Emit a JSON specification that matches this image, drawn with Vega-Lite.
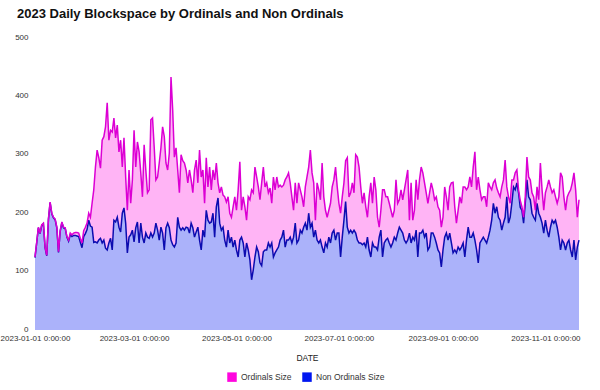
{
"$schema": "https://vega.github.io/schema/vega-lite/v6.json",
"width": 544, "height": 292,
"autosize": "none",
"padding": {"left": 35, "top": 38, "right": 21, "bottom": 60},
"background": "white",
"config": {"font": "Liberation Sans", "view": {"stroke": null}},
"title": {"text": "2023 Daily Blockspace by Ordinals and Non Ordinals", "anchor": "start", "frame": "group", "dx": -18, "offset": 12, "fontSize": 13, "fontWeight": "bold", "color": "#111111"},
"data": {"values": [
{"d":"2023-01-01","t":125,"n":124},{"d":"2023-01-02","t":150,"n":149},{"d":"2023-01-03","t":176,"n":175},{"d":"2023-01-04","t":166,"n":165},{"d":"2023-01-05","t":180,"n":179},{"d":"2023-01-06","t":183,"n":182},{"d":"2023-01-07","t":142,"n":141},{"d":"2023-01-08","t":128,"n":127},{"d":"2023-01-09","t":190,"n":189},{"d":"2023-01-10","t":219,"n":218},{"d":"2023-01-11","t":200,"n":199},{"d":"2023-01-12","t":193,"n":192},{"d":"2023-01-13","t":190,"n":189},{"d":"2023-01-14","t":176,"n":175},{"d":"2023-01-15","t":134,"n":133},{"d":"2023-01-16","t":170,"n":169},{"d":"2023-01-17","t":185,"n":184},{"d":"2023-01-18","t":176,"n":175},{"d":"2023-01-19","t":175,"n":174},{"d":"2023-01-20","t":160,"n":159},{"d":"2023-01-21","t":154,"n":152},{"d":"2023-01-22","t":166,"n":163},{"d":"2023-01-23","t":163,"n":160},{"d":"2023-01-24","t":166,"n":162},{"d":"2023-01-25","t":167,"n":162},{"d":"2023-01-26","t":167,"n":161},{"d":"2023-01-27","t":166,"n":160},{"d":"2023-01-28","t":157,"n":150},{"d":"2023-01-29","t":149,"n":141},{"d":"2023-01-30","t":170,"n":160},{"d":"2023-01-31","t":176,"n":165},
{"d":"2023-02-01","t":183,"n":172},{"d":"2023-02-02","t":200,"n":188},{"d":"2023-02-03","t":193,"n":178},{"d":"2023-02-04","t":217,"n":176},{"d":"2023-02-05","t":240,"n":150},{"d":"2023-02-06","t":279,"n":151},{"d":"2023-02-07","t":308,"n":149},{"d":"2023-02-08","t":295,"n":154},{"d":"2023-02-09","t":277,"n":157},{"d":"2023-02-10","t":325,"n":149},{"d":"2023-02-11","t":331,"n":154},{"d":"2023-02-12","t":348,"n":140},{"d":"2023-02-13","t":389,"n":137},{"d":"2023-02-14","t":325,"n":149},{"d":"2023-02-15","t":342,"n":157},{"d":"2023-02-16","t":339,"n":137},{"d":"2023-02-17","t":363,"n":188},{"d":"2023-02-18","t":329,"n":185},{"d":"2023-02-19","t":351,"n":193},{"d":"2023-02-20","t":305,"n":176},{"d":"2023-02-21","t":325,"n":168},{"d":"2023-02-22","t":279,"n":200},{"d":"2023-02-23","t":329,"n":209},{"d":"2023-02-24","t":262,"n":183},{"d":"2023-02-25","t":205,"n":132},{"d":"2023-02-26","t":274,"n":159},{"d":"2023-02-27","t":217,"n":163},{"d":"2023-02-28","t":257,"n":171},
{"d":"2023-03-01","t":342,"n":151},{"d":"2023-03-02","t":279,"n":175},{"d":"2023-03-03","t":322,"n":185},{"d":"2023-03-04","t":305,"n":149},{"d":"2023-03-05","t":269,"n":183},{"d":"2023-03-06","t":228,"n":159},{"d":"2023-03-07","t":317,"n":149},{"d":"2023-03-08","t":274,"n":166},{"d":"2023-03-09","t":235,"n":159},{"d":"2023-03-10","t":240,"n":157},{"d":"2023-03-11","t":360,"n":166},{"d":"2023-03-12","t":363,"n":159},{"d":"2023-03-13","t":313,"n":166},{"d":"2023-03-14","t":257,"n":183},{"d":"2023-03-15","t":262,"n":171},{"d":"2023-03-16","t":286,"n":154},{"d":"2023-03-17","t":312,"n":176},{"d":"2023-03-18","t":348,"n":166},{"d":"2023-03-19","t":331,"n":137},{"d":"2023-03-20","t":286,"n":175},{"d":"2023-03-21","t":274,"n":183},{"d":"2023-03-22","t":303,"n":175},{"d":"2023-03-23","t":433,"n":154},{"d":"2023-03-24","t":377,"n":146},{"d":"2023-03-25","t":296,"n":142},{"d":"2023-03-26","t":312,"n":149},{"d":"2023-03-27","t":274,"n":193},{"d":"2023-03-28","t":235,"n":176},{"d":"2023-03-29","t":300,"n":171},{"d":"2023-03-30","t":290,"n":175},{"d":"2023-03-31","t":286,"n":171},
{"d":"2023-04-01","t":274,"n":176},{"d":"2023-04-02","t":252,"n":175},{"d":"2023-04-03","t":274,"n":166},{"d":"2023-04-04","t":257,"n":183},{"d":"2023-04-05","t":235,"n":175},{"d":"2023-04-06","t":274,"n":159},{"d":"2023-04-07","t":291,"n":168},{"d":"2023-04-08","t":252,"n":176},{"d":"2023-04-09","t":308,"n":154},{"d":"2023-04-10","t":262,"n":137},{"d":"2023-04-11","t":274,"n":171},{"d":"2023-04-12","t":217,"n":159},{"d":"2023-04-13","t":295,"n":205},{"d":"2023-04-14","t":245,"n":188},{"d":"2023-04-15","t":279,"n":183},{"d":"2023-04-16","t":240,"n":185},{"d":"2023-04-17","t":274,"n":200},{"d":"2023-04-18","t":257,"n":159},{"d":"2023-04-19","t":286,"n":211},{"d":"2023-04-20","t":252,"n":226},{"d":"2023-04-21","t":235,"n":183},{"d":"2023-04-22","t":245,"n":171},{"d":"2023-04-23","t":231,"n":176},{"d":"2023-04-24","t":228,"n":154},{"d":"2023-04-25","t":219,"n":142},{"d":"2023-04-26","t":228,"n":171},{"d":"2023-04-27","t":200,"n":149},{"d":"2023-04-28","t":193,"n":159},{"d":"2023-04-29","t":211,"n":142},{"d":"2023-04-30","t":228,"n":154},
{"d":"2023-05-01","t":205,"n":137},{"d":"2023-05-02","t":240,"n":125},{"d":"2023-05-03","t":288,"n":154},{"d":"2023-05-04","t":205,"n":159},{"d":"2023-05-05","t":228,"n":149},{"d":"2023-05-06","t":211,"n":125},{"d":"2023-05-07","t":188,"n":149},{"d":"2023-05-08","t":228,"n":137},{"d":"2023-05-09","t":223,"n":120},{"d":"2023-05-10","t":240,"n":86},{"d":"2023-05-11","t":235,"n":103},{"d":"2023-05-12","t":279,"n":125},{"d":"2023-05-13","t":262,"n":142},{"d":"2023-05-14","t":245,"n":134},{"d":"2023-05-15","t":223,"n":115},{"d":"2023-05-16","t":252,"n":110},{"d":"2023-05-17","t":279,"n":134},{"d":"2023-05-18","t":245,"n":137},{"d":"2023-05-19","t":252,"n":137},{"d":"2023-05-20","t":235,"n":149},{"d":"2023-05-21","t":243,"n":142},{"d":"2023-05-22","t":217,"n":149},{"d":"2023-05-23","t":262,"n":125},{"d":"2023-05-24","t":240,"n":132},{"d":"2023-05-25","t":262,"n":137},{"d":"2023-05-26","t":245,"n":142},{"d":"2023-05-27","t":248,"n":154},{"d":"2023-05-28","t":245,"n":159},{"d":"2023-05-29","t":248,"n":171},{"d":"2023-05-30","t":257,"n":142},{"d":"2023-05-31","t":262,"n":154},
{"d":"2023-06-01","t":269,"n":154},{"d":"2023-06-02","t":252,"n":159},{"d":"2023-06-03","t":228,"n":149},{"d":"2023-06-04","t":205,"n":159},{"d":"2023-06-05","t":252,"n":183},{"d":"2023-06-06","t":217,"n":149},{"d":"2023-06-07","t":252,"n":154},{"d":"2023-06-08","t":240,"n":171},{"d":"2023-06-09","t":228,"n":166},{"d":"2023-06-10","t":211,"n":176},{"d":"2023-06-11","t":245,"n":183},{"d":"2023-06-12","t":262,"n":171},{"d":"2023-06-13","t":279,"n":200},{"d":"2023-06-14","t":308,"n":176},{"d":"2023-06-15","t":269,"n":183},{"d":"2023-06-16","t":252,"n":159},{"d":"2023-06-17","t":188,"n":171},{"d":"2023-06-18","t":252,"n":154},{"d":"2023-06-19","t":240,"n":149},{"d":"2023-06-20","t":223,"n":154},{"d":"2023-06-21","t":286,"n":142},{"d":"2023-06-22","t":228,"n":132},{"d":"2023-06-23","t":205,"n":149},{"d":"2023-06-24","t":193,"n":142},{"d":"2023-06-25","t":205,"n":159},{"d":"2023-06-26","t":217,"n":149},{"d":"2023-06-27","t":245,"n":166},{"d":"2023-06-28","t":257,"n":171},{"d":"2023-06-29","t":279,"n":154},{"d":"2023-06-30","t":245,"n":166},
{"d":"2023-07-01","t":217,"n":166},{"d":"2023-07-02","t":200,"n":125},{"d":"2023-07-03","t":228,"n":159},{"d":"2023-07-04","t":252,"n":188},{"d":"2023-07-05","t":290,"n":220},{"d":"2023-07-06","t":295,"n":176},{"d":"2023-07-07","t":228,"n":166},{"d":"2023-07-08","t":235,"n":171},{"d":"2023-07-09","t":252,"n":166},{"d":"2023-07-10","t":235,"n":171},{"d":"2023-07-11","t":300,"n":166},{"d":"2023-07-12","t":296,"n":154},{"d":"2023-07-13","t":279,"n":149},{"d":"2023-07-14","t":245,"n":149},{"d":"2023-07-15","t":217,"n":146},{"d":"2023-07-16","t":235,"n":149},{"d":"2023-07-17","t":211,"n":142},{"d":"2023-07-18","t":193,"n":159},{"d":"2023-07-19","t":228,"n":137},{"d":"2023-07-20","t":252,"n":125},{"d":"2023-07-21","t":217,"n":149},{"d":"2023-07-22","t":262,"n":142},{"d":"2023-07-23","t":240,"n":142},{"d":"2023-07-24","t":193,"n":137},{"d":"2023-07-25","t":176,"n":159},{"d":"2023-07-26","t":205,"n":171},{"d":"2023-07-27","t":240,"n":125},{"d":"2023-07-28","t":240,"n":149},{"d":"2023-07-29","t":228,"n":154},{"d":"2023-07-30","t":228,"n":157},{"d":"2023-07-31","t":217,"n":149},
{"d":"2023-08-01","t":205,"n":142},{"d":"2023-08-02","t":193,"n":149},{"d":"2023-08-03","t":205,"n":159},{"d":"2023-08-04","t":257,"n":154},{"d":"2023-08-05","t":217,"n":166},{"d":"2023-08-06","t":223,"n":176},{"d":"2023-08-07","t":240,"n":171},{"d":"2023-08-08","t":223,"n":166},{"d":"2023-08-09","t":240,"n":154},{"d":"2023-08-10","t":257,"n":149},{"d":"2023-08-11","t":274,"n":154},{"d":"2023-08-12","t":188,"n":166},{"d":"2023-08-13","t":252,"n":149},{"d":"2023-08-14","t":188,"n":159},{"d":"2023-08-15","t":205,"n":154},{"d":"2023-08-16","t":257,"n":171},{"d":"2023-08-17","t":223,"n":125},{"d":"2023-08-18","t":257,"n":166},{"d":"2023-08-19","t":279,"n":166},{"d":"2023-08-20","t":269,"n":171},{"d":"2023-08-21","t":252,"n":159},{"d":"2023-08-22","t":235,"n":166},{"d":"2023-08-23","t":217,"n":137},{"d":"2023-08-24","t":235,"n":142},{"d":"2023-08-25","t":252,"n":166},{"d":"2023-08-26","t":240,"n":166},{"d":"2023-08-27","t":223,"n":159},{"d":"2023-08-28","t":228,"n":149},{"d":"2023-08-29","t":211,"n":137},{"d":"2023-08-30","t":205,"n":132},{"d":"2023-08-31","t":176,"n":108},
{"d":"2023-09-01","t":193,"n":137},{"d":"2023-09-02","t":245,"n":159},{"d":"2023-09-03","t":228,"n":166},{"d":"2023-09-04","t":205,"n":154},{"d":"2023-09-05","t":245,"n":166},{"d":"2023-09-06","t":252,"n":149},{"d":"2023-09-07","t":253,"n":132},{"d":"2023-09-08","t":211,"n":137},{"d":"2023-09-09","t":183,"n":132},{"d":"2023-09-10","t":205,"n":142},{"d":"2023-09-11","t":228,"n":137},{"d":"2023-09-12","t":217,"n":142},{"d":"2023-09-13","t":245,"n":149},{"d":"2023-09-14","t":245,"n":125},{"d":"2023-09-15","t":240,"n":154},{"d":"2023-09-16","t":245,"n":176},{"d":"2023-09-17","t":262,"n":159},{"d":"2023-09-18","t":245,"n":159},{"d":"2023-09-19","t":279,"n":166},{"d":"2023-09-20","t":305,"n":154},{"d":"2023-09-21","t":240,"n":137},{"d":"2023-09-22","t":262,"n":115},{"d":"2023-09-23","t":240,"n":149},{"d":"2023-09-24","t":223,"n":154},{"d":"2023-09-25","t":228,"n":159},{"d":"2023-09-26","t":228,"n":154},{"d":"2023-09-27","t":211,"n":149},{"d":"2023-09-28","t":252,"n":159},{"d":"2023-09-29","t":245,"n":171},{"d":"2023-09-30","t":240,"n":188},
{"d":"2023-10-01","t":252,"n":217},{"d":"2023-10-02","t":257,"n":200},{"d":"2023-10-03","t":243,"n":211},{"d":"2023-10-04","t":235,"n":193},{"d":"2023-10-05","t":228,"n":188},{"d":"2023-10-06","t":245,"n":171},{"d":"2023-10-07","t":257,"n":183},{"d":"2023-10-08","t":291,"n":193},{"d":"2023-10-09","t":245,"n":228},{"d":"2023-10-10","t":228,"n":183},{"d":"2023-10-11","t":217,"n":193},{"d":"2023-10-12","t":257,"n":217},{"d":"2023-10-13","t":257,"n":245},{"d":"2023-10-14","t":269,"n":240},{"d":"2023-10-15","t":274,"n":252},{"d":"2023-10-16","t":240,"n":235},{"d":"2023-10-17","t":222,"n":210},{"d":"2023-10-18","t":211,"n":205},{"d":"2023-10-19","t":193,"n":183},{"d":"2023-10-20","t":228,"n":217},{"d":"2023-10-21","t":296,"n":257},{"d":"2023-10-22","t":262,"n":228},{"d":"2023-10-23","t":257,"n":223},{"d":"2023-10-24","t":235,"n":200},{"d":"2023-10-25","t":228,"n":193},{"d":"2023-10-26","t":205,"n":188},{"d":"2023-10-27","t":245,"n":217},{"d":"2023-10-28","t":223,"n":200},{"d":"2023-10-29","t":286,"n":193},{"d":"2023-10-30","t":240,"n":183},{"d":"2023-10-31","t":205,"n":166},
{"d":"2023-11-01","t":235,"n":188},{"d":"2023-11-02","t":245,"n":171},{"d":"2023-11-03","t":257,"n":159},{"d":"2023-11-04","t":245,"n":176},{"d":"2023-11-05","t":235,"n":188},{"d":"2023-11-06","t":240,"n":183},{"d":"2023-11-07","t":228,"n":188},{"d":"2023-11-08","t":217,"n":176},{"d":"2023-11-09","t":228,"n":159},{"d":"2023-11-10","t":269,"n":137},{"d":"2023-11-11","t":262,"n":154},{"d":"2023-11-12","t":228,"n":149},{"d":"2023-11-13","t":205,"n":137},{"d":"2023-11-14","t":228,"n":149},{"d":"2023-11-15","t":235,"n":154},{"d":"2023-11-16","t":240,"n":137},{"d":"2023-11-17","t":252,"n":125},{"d":"2023-11-18","t":269,"n":154},{"d":"2023-11-19","t":240,"n":120},{"d":"2023-11-20","t":193,"n":142},{"d":"2023-11-21","t":223,"n":154}
]},
"encoding": {
  "x": {"field": "d", "type": "temporal", "timeUnit": "utcyearmonthdate", "title": "DATE",
    "axis": {"format": "%Y-%m-%d %-H:%M:%S", "tickCount": {"interval": "month", "step": 2}, "labelFontSize": 8, "labelColor": "#333333", "ticks": false, "domain": false, "grid": false, "labelPadding": 4, "labelFlush": false, "labelBound": false, "labelOverlap": false, "titleFontSize": 8.5, "titleFontWeight": "normal", "titleColor": "#222222", "titlePadding": 11}}
},
"layer": [
  {"mark": {"type": "area", "fillOpacity": 0.33},
   "encoding": {"y": {"field": "n", "type": "quantitative", "scale": {"domain": [0, 500], "nice": false}, "axis": {"title": null, "tickCount": 5, "labelFontSize": 8, "labelColor": "#333333", "ticks": false, "domain": false, "grid": false, "labelPadding": 7, "labelOffset": -1}},
     "color": {"datum": "Non Ordinals Size", "type": "nominal", "scale": {"domain": ["Ordinals Size", "Non Ordinals Size"], "range": ["#ff05de", "#0016f0"]},
       "legend": {"title": null, "orient": "none", "legendX": 192, "legendY": 334, "direction": "horizontal", "symbolType": "square", "symbolSize": 90, "symbolOpacity": 1, "symbolStrokeWidth": 0, "labelFontSize": 8.5, "labelColor": "#333333", "columnPadding": 10}}}},
  {"mark": {"type": "area", "fillOpacity": 0.3},
   "encoding": {"y": {"field": "t", "type": "quantitative"}, "y2": {"field": "n"},
     "color": {"datum": "Ordinals Size", "type": "nominal"}}},
  {"mark": {"type": "line", "strokeWidth": 1.5, "stroke": "#0c0cb0"},
   "encoding": {"y": {"field": "n", "type": "quantitative"}}},
  {"mark": {"type": "line", "strokeWidth": 1.5, "stroke": "#dc00d4"},
   "encoding": {"y": {"field": "t", "type": "quantitative"}}}
]
}
